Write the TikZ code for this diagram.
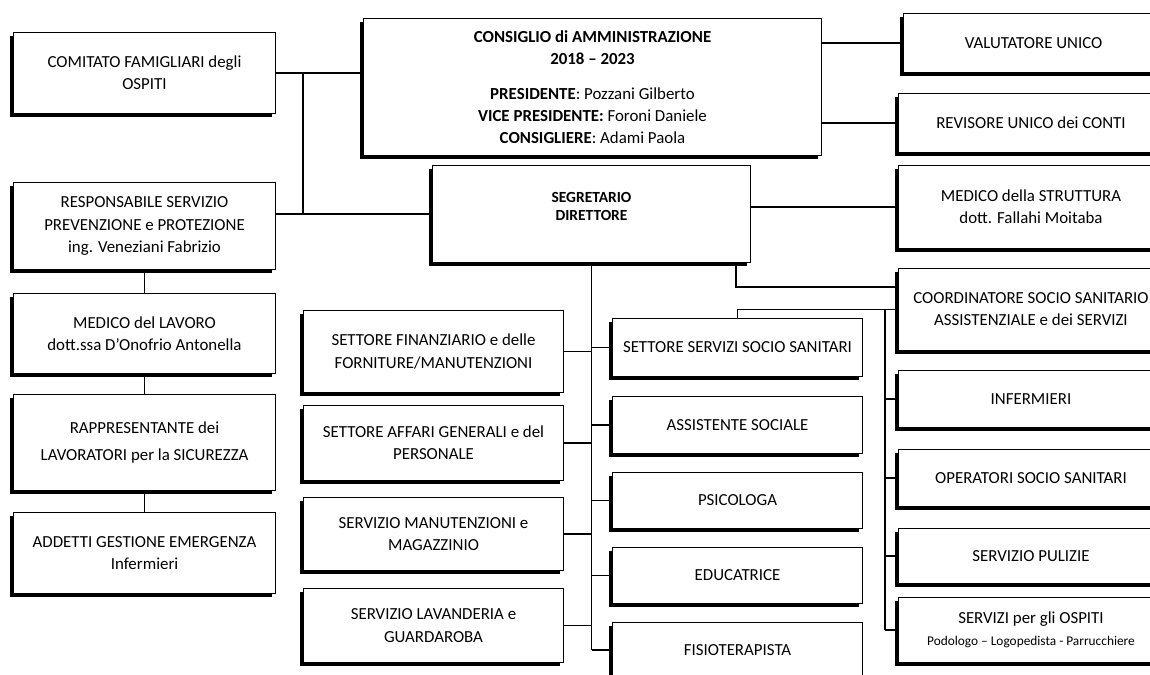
\documentclass[tikz,border=0pt]{standalone}
\usepackage{fontspec}
\setmainfont{Carlito}
\usetikzlibrary{shadows}

\begin{document}
\begin{tikzpicture}[x=0.02cm,y=-0.02cm,
    box/.style={draw,line width=0.6pt,fill=white,anchor=north west,inner sep=2pt,align=center,
        font=\fontsize{9.6}{12.6}\selectfont,
        drop shadow={shadow xshift=-0.07cm,shadow yshift=-0.07cm,opacity=1,fill=black}},
    link/.style={line width=0.6pt}
]
    \useasboundingbox (0,0) rectangle (1150,675);

    \node[box,minimum width=5.24cm,minimum height=1.62cm] (comitato) at (13,32) {COMITATO FAMIGLIARI degli\\OSPITI};
    \node[box,minimum width=5.24cm,minimum height=1.74cm] (resp) at (13,182) {RESPONSABILE SERVIZIO\\PREVENZIONE e PROTEZIONE\\ing. Veneziani Fabrizio};
    \node[box,minimum width=5.24cm,minimum height=1.60cm] (medlav) at (13,293) {MEDICO del LAVORO\\dott.ssa D’Onofrio Antonella};
    \node[box,minimum width=5.24cm,minimum height=1.92cm] (rls) at (13,394) {RAPPRESENTANTE dei\\[3pt]LAVORATORI per la SICUREZZA};
    \node[box,minimum width=5.24cm,minimum height=1.62cm] (addetti) at (13,512) {ADDETTI GESTIONE EMERGENZA\\Infermieri};

    \node[box,minimum width=9.16cm,minimum height=2.74cm] (cda) at (363,18) {\textbf{\fontsize{9.6}{13}\selectfont CONSIGLIO di AMMINISTRAZIONE}\\\textbf{\fontsize{9.6}{13}\selectfont 2018 -- 2023}\\[7pt]
        \textbf{PRESIDENTE}: Pozzani Gilberto\\\textbf{VICE PRESIDENTE:} Foroni Daniele\\\textbf{CONSIGLIERE}: Adami Paola};
    \node[box,minimum width=6.36cm,minimum height=1.94cm,font=\fontsize{8.8}{10.5}\selectfont\bfseries] (segr) at (432,165) {SEGRETARIO\\DIRETTORE\\[-2pt]\mbox{}};

    \node[box,minimum width=5.2cm,minimum height=1.18cm] (valut) at (903,13) {VALUTATORE UNICO};
    \node[box,minimum width=5.3cm,minimum height=1.18cm] (revis) at (898,93) {REVISORE UNICO dei CONTI};
    \node[box,minimum width=5.3cm,minimum height=1.66cm] (medstr) at (898,165) {MEDICO della STRUTTURA\\dott. Fallahi Moitaba};
    \node[box,minimum width=5.3cm,minimum height=1.64cm] (coord) at (898,268) {COORDINATORE SOCIO SANITARIO\\ASSISTENZIALE e dei SERVIZI};
    \node[box,minimum width=5.3cm,minimum height=1.14cm] (inferm) at (898,370) {INFERMIERI};
    \node[box,minimum width=5.3cm,minimum height=1.14cm] (oss) at (898,449) {OPERATORI SOCIO SANITARI};
    \node[box,minimum width=5.3cm,minimum height=1.10cm] (pulizie) at (898,528) {SERVIZIO PULIZIE};
    \node[box,minimum width=5.3cm,minimum height=1.30cm] (ospiti) at (898,597) {SERVIZI per gli OSPITI\\\fontsize{7.6}{9}\selectfont Podologo -- Logopedista - Parrucchiere};

    \node[box,minimum width=5.2cm,minimum height=1.64cm] (finanz) at (303,310) {SETTORE FINANZIARIO e delle\\FORNITURE/MANUTENZIONI};
    \node[box,minimum width=5.2cm,minimum height=1.50cm] (affari) at (303,405) {SETTORE AFFARI GENERALI e del\\PERSONALE};
    \node[box,minimum width=5.2cm,minimum height=1.46cm] (manut) at (303,497) {SERVIZIO MANUTENZIONI e\\MAGAZZINIO};
    \node[box,minimum width=5.2cm,minimum height=1.48cm] (lavand) at (303,588) {SERVIZIO LAVANDERIA e\\GUARDAROBA};

    \node[box,minimum width=5.0cm,minimum height=1.16cm] (sss) at (612,318) {SETTORE SERVIZI SOCIO SANITARI};
    \node[box,minimum width=5.0cm,minimum height=1.14cm] (assist) at (612,396) {ASSISTENTE SOCIALE};
    \node[box,minimum width=5.0cm,minimum height=1.12cm] (psico) at (612,472) {PSICOLOGA};
    \node[box,minimum width=5.0cm,minimum height=1.12cm] (educ) at (612,547) {EDUCATRICE};
    \node[box,minimum width=5.0cm,minimum height=1.10cm] (fisio) at (612,622) {FISIOTERAPISTA};

    \coordinate (giunto) at (303,0);
    \coordinate (c1) at (736,287);
    \coordinate (spina) at (885,0);

    \draw[link] (comitato.east) -- (comitato.east -| cda.west);
    \draw[link] (giunto |- comitato.east) -- (giunto |- segr.west);
    \draw[link] (resp.east |- segr.west) -- (segr.west);
    \draw[link] (resp.south) -- (medlav.north);
    \draw[link] (medlav.south) -- (rls.north);
    \draw[link] (rls.south) -- (addetti.north);

    \draw[link] (valut.west -| cda.east) -- (valut.west);
    \draw[link] (revis.west -| cda.east) -- (revis.west);
    \draw[link] (segr.east |- medstr.west) -- (medstr.west);

    \draw[link] (segr.south) -- (segr.south |- fisio.west);
    \draw[link] (finanz.east) -- (finanz.east -| segr.south);
    \draw[link] (affari.east) -- (affari.east -| segr.south);
    \draw[link] (manut.east) -- (manut.east -| segr.south);
    \draw[link] (lavand.east) -- (lavand.east -| segr.south);
    \draw[link] (segr.south |- sss.west) -- (sss.west);
    \draw[link] (segr.south |- assist.west) -- (assist.west);
    \draw[link] (segr.south |- psico.west) -- (psico.west);
    \draw[link] (segr.south |- educ.west) -- (educ.west);
    \draw[link] (segr.south |- fisio.west) -- (fisio.west);

    \draw[link] (segr.south -| c1) -- (c1) -- (c1 -| coord.west);
    \draw[link] (sss.north) |- (coord.west);
    \draw[link] (spina |- coord.west) -- (spina |- ospiti.west);
    \draw[link] (spina |- inferm.west) -- (inferm.west);
    \draw[link] (spina |- oss.west) -- (oss.west);
    \draw[link] (spina |- pulizie.west) -- (pulizie.west);
    \draw[link] (spina |- ospiti.west) -- (ospiti.west);

\end{tikzpicture}
\end{document}
